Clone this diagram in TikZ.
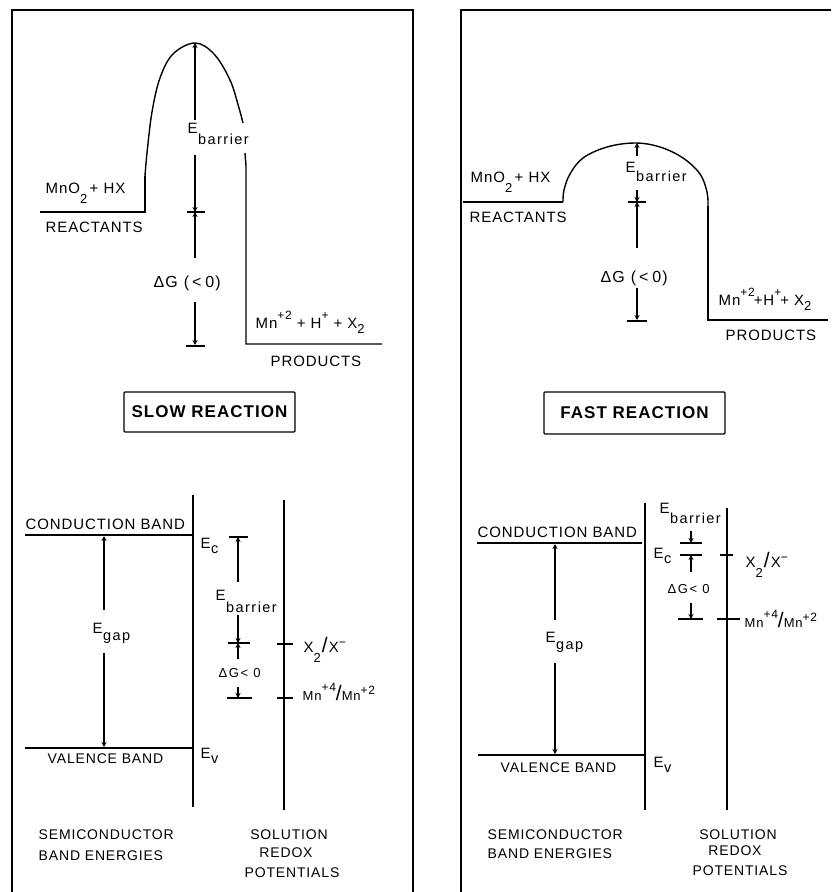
\documentclass[tikz,border=0pt]{standalone}
\usepackage{fontspec}
\setmainfont{Liberation Sans}[LetterSpace=6]
\usetikzlibrary{arrows.meta}
\newcommand\Esb[2][11pt]{E\kern0.5pt\raisebox{-#1}{\fontsize{14.5}{14}\selectfont\addfontfeature{LetterSpace=10}#2}}
\newcommand\sps[2][8pt]{\raisebox{#1}{\fontsize{12}{12}\selectfont #2}}
\newcommand\sbs[2][9pt]{\raisebox{-#1}{\fontsize{13}{13}\selectfont #2}}
\newcommand\slsh{{\fontsize{21}{21}\selectfont/}}
\newcommand\smallfs{\fontsize{13}{15}\selectfont}
\begin{document}
\begin{tikzpicture}[x=1pt,y=-1pt,line width=1.4pt,
  every node/.style={inner sep=0pt,font=\fontsize{15}{17}\selectfont},
  bt/.style={font=\fontsize{14}{16}\selectfont},
  dg/.style={font=\fontsize{16}{18}\selectfont},
  lbl/.style={anchor=base west},
  clbl/.style={anchor=base},
  ah/.style={-{Stealth[length=5pt,width=5pt]}},
  titlebox/.style={draw,line width=1.2pt,rounded corners=1pt,font=\fontsize{17}{19}\selectfont\bfseries}]
\useasboundingbox (0,0) rectangle (831,892);
% frames
\draw (12,892) -- (12,10) -- (413,10) -- (413,892);
\draw (461,892) -- (461,10) -- (831,10);

% ===== LEFT TOP =====
\draw (40,212) -- (145,212) -- (145,176);
\draw plot[smooth,tension=0.6] coordinates {(145,176) (147,153) (152,112) (160,78) (173,54) (195,43) (214,54) (230,80) (239,108) (243,123)};
\draw (245,153) -- (246,166) -- (246,344) -- (382,344);
\draw[ah] (195,120) -- (195,43);
\draw[ah] (195,155) -- (195,212);
\draw (187,212) -- (205,212);
\draw[ah] (195,258) -- (195,212);
\draw[ah] (195,302) -- (195,345);
\draw (186,346) -- (205,346);
\node[lbl] (lr1) at (45,193) {MnO\sbs[10pt]{2}\,+ HX};
\node[lbl] (lr2) at (45,232) {REACTANTS};
\node[lbl] (leb) at (187,133) {\Esb{barrier}};
\node[lbl,dg] (ldg) at (153,287) {ΔG\hspace{6pt}(\hspace{3pt}<\hspace{4pt}0\hspace{1pt})};
\node[lbl] (lp1) at (255,328) {Mn\sps[9pt]{+2} + H\sps[9pt]{+} + X\sbs[5pt]{2}};
\node[lbl] (lp2) at (270,366) {PRODUCTS};
\node[titlebox,minimum width=171pt,minimum height=40pt] (slow) at (209.5,412) {SLOW REACTION};

% ===== LEFT BOTTOM =====
\draw (25,535) -- (192,535);
\draw (25,748) -- (193,748);
\draw (193,495) -- (193,807);
\draw (284,500) -- (284,810);
\draw[ah] (104,610) -- (104,536);
\draw[ah] (104,653) -- (104,747);
\draw (229,537) -- (248,537);
\draw[ah] (238,582) -- (238,537);
\draw[ah] (238,615) -- (238,643);
\draw (228,643) -- (250,643);
\draw[ah] (238,659) -- (238,643);
\draw[ah] (238,687) -- (238,698);
\draw (227,698) -- (252,698);
\draw (277,644) -- (293,644);
\draw (277,698) -- (293,698);
\node[lbl] (lcb) at (25,529) {CONDUCTION BAND};
\node[lbl,bt] (lvb) at (47,763) {VALENCE BAND};
\node[lbl] (lec) at (200,548) {\Esb[5pt]{c}};
\node[lbl] (lev) at (200,758) {\Esb[5pt]{v}};
\node[lbl] (leg) at (92,633) {\Esb[7pt]{gap}};
\node[lbl] (leb2) at (215,600) {\Esb[12pt]{barrier}};
\node[lbl,font=\smallfs\addfontfeature{LetterSpace=12}] (ldg2) at (218,677) {ΔG< 0};
\node[lbl] (lx) at (303,652) {X\sbs[10pt]{2}\kern1pt\slsh\kern1pt X\sps[6pt]{−}};
\node[lbl,font=\smallfs] (lmn) at (302,700) {Mn\sps[9pt]{+4}\slsh Mn\sps[6pt]{+2}};
\node[lbl,bt] (ls1) at (38,839) {SEMICONDUCTOR};
\node[lbl,bt] (ls2) at (38,860) {BAND ENERGIES};
\node[clbl,bt] (lo1) at (289,839) {SOLUTION};
\node[clbl,bt] (lo2) at (286,857) {REDOX};
\node[clbl,bt] (lo3) at (292,877) {POTENTIALS};

% ===== RIGHT TOP =====
\draw (463,202) -- (563,202);
\draw plot[smooth,tension=0.6] coordinates {(563,202) (564,190) (570,174) (583,158) (607,147) (635,143) (660,147) (683,158) (700,174) (707,192) (708,206)};
\draw (708,206) -- (708,320) -- (828,320);
\draw[ah] (637,156) -- (637,143);
\draw[ah] (637,190) -- (637,202);
\draw (628,202) -- (646,202);
\draw[ah] (637,248) -- (637,202);
\draw[ah] (637,288) -- (637,320);
\draw (627,321) -- (647,321);
\node[lbl] (rr1) at (470,182) {MnO\sbs[10pt]{2}\,+ HX};
\node[lbl] (rr2) at (469,222) {REACTANTS};
\node[lbl] (reb) at (625,172) {\Esb[9pt]{barrier}};
\node[lbl,dg] (rdg) at (600,282) {ΔG\hspace{6pt}(\hspace{3pt}<\hspace{4pt}0\hspace{1pt})};
\node[lbl] (rp1) at (718,305) {Mn\sps[9pt]{+2}\kern-1pt+H\sps[9pt]{+}\kern-1pt+ X\sbs[5pt]{2}};
\node[lbl] (rp2) at (725,340) {PRODUCTS};
\node[titlebox,minimum width=181pt,minimum height=42pt] (fast) at (634.5,413) {FAST REACTION};

% ===== RIGHT BOTTOM =====
\draw (477,543) -- (642,543);
\draw (478,755) -- (645,755);
\draw (645,503) -- (645,810);
\draw (727,508) -- (727,810);
\draw[ah] (555,620) -- (555,544);
\draw[ah] (555,663) -- (555,754);
\draw (680,543) -- (702,543);
\draw[ah] (691,531) -- (691,543);
\draw (680,555) -- (702,555);
\draw[ah] (691,572) -- (691,555);
\draw[ah] (691,603) -- (691,619);
\draw (678,619) -- (703,619);
\draw (720,555) -- (733,555);
\draw (717,619) -- (740,619);
\node[lbl] (rcb) at (477,537) {CONDUCTION BAND};
\node[lbl,bt] (rvb) at (500,772) {VALENCE BAND};
\node[lbl] (rec) at (653,558) {\Esb[5pt]{c}};
\node[lbl] (rev) at (653,767) {\Esb[5pt]{v}};
\node[lbl] (reg) at (545,642) {\Esb[7pt]{gap}};
\node[lbl] (reb2) at (659,513) {\Esb[10pt]{barrier}};
\node[lbl,font=\smallfs\addfontfeature{LetterSpace=12}] (rdg2) at (667,593) {ΔG< 0};
\node[lbl] (rx) at (745,567) {X\sbs[10pt]{2}\kern1pt\slsh\kern1pt X\sps[6pt]{−}};
\node[lbl,font=\smallfs] (rmn) at (744,627) {Mn\sps[9pt]{+4}\slsh Mn\sps[6pt]{+2}};
\node[lbl,bt] (rs1) at (487,839) {SEMICONDUCTOR};
\node[lbl,bt] (rs2) at (487,858) {BAND ENERGIES};
\node[clbl,bt] (ro1) at (738,839) {SOLUTION};
\node[clbl,bt] (ro2) at (735,855) {REDOX};
\node[clbl,bt] (ro3) at (740,875) {POTENTIALS};
\end{tikzpicture}
\end{document}
